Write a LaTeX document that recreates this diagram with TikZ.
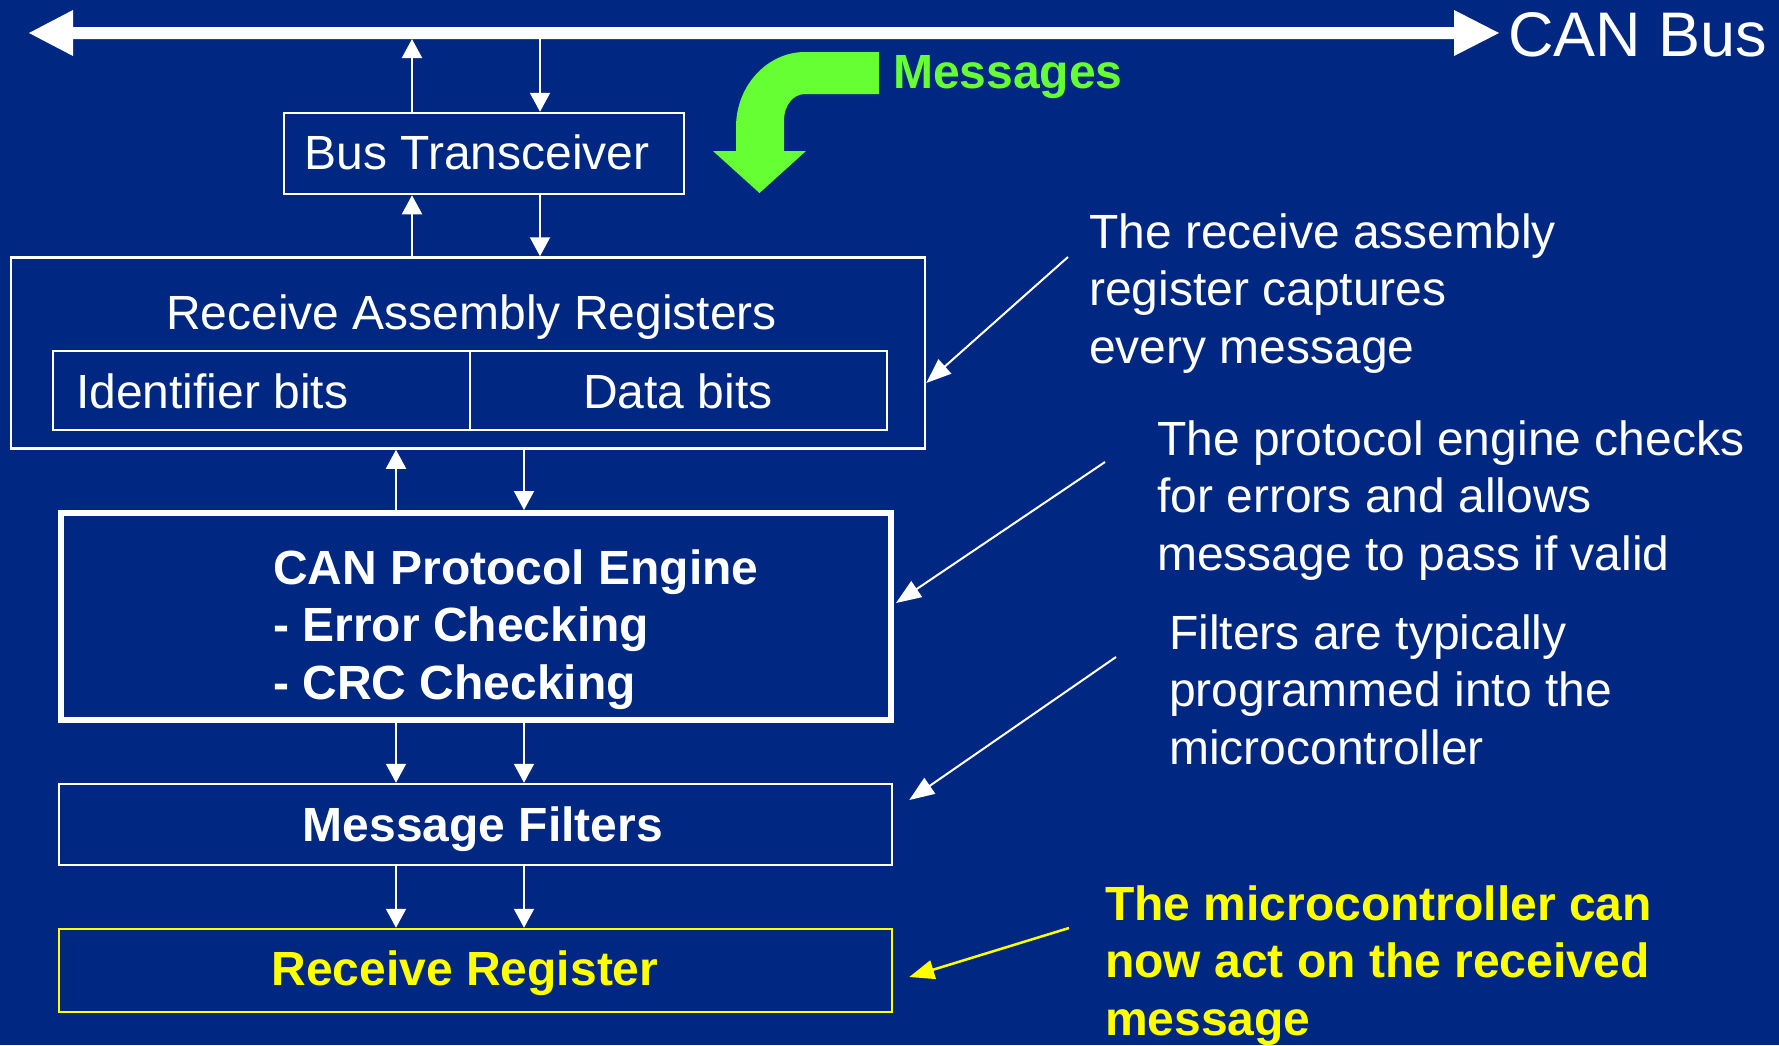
\documentclass[tikz,border=0pt]{standalone}
\usepackage{fontspec}
\setmainfont{Liberation Sans}
\usetikzlibrary{arrows.meta}
\definecolor{slidebg}{RGB}{0,40,130}
\definecolor{msggreen}{RGB}{102,255,51}
\definecolor{hiyellow}{RGB}{255,255,0}

\begin{document}
\begin{tikzpicture}[x=1pt,y=-1pt,
  txt/.style={inner sep=0pt, text=white, font=\fontsize{48}{57.5}\selectfont},
  boldtxt/.style={inner sep=0pt, text=white, font=\fontsize{48}{57.5}\selectfont\bfseries},
  blk/.style={draw=white, line width=2.5pt, inner sep=0pt},
  link/.style={draw=white, line width=2pt, -{Triangle[length=19pt,width=20pt]}},
  note/.style={draw=white, line width=2pt, -{Triangle[length=25pt,width=19pt]}},
]
% background and page size
\fill[slidebg] (0,0) rectangle (1779,1045);
\useasboundingbox (0,0) rectangle (1779,1045);

% CAN bus: thick double-headed arrow
\fill[white] (29,33) -- (73,10) -- (73,27) -- (1454,27) -- (1454,10) -- (1499,33)
  -- (1454,56) -- (1454,39) -- (73,39) -- (73,56) -- cycle;
\coordinate (busedge) at (0,39);
\node[anchor=base west, inner sep=0pt, text=white, font=\fontsize{63}{70}\selectfont]
  (canbus) at (1508,56) {CAN Bus};

% incoming messages arrow
\fill[msggreen] (879,52) -- (805,52) .. controls (767,52) and (736,86) .. (736,127)
  -- (736,151) -- (713,151) -- (759.5,193) -- (806,151) -- (784,151) -- (784,120)
  .. controls (784,106) and (793,94) .. (805,94) -- (879,94) -- cycle;
\node[boldtxt, text=msggreen, anchor=base west] (msgtext) at (893,88) {Messages};

% blocks
\node[blk, minimum width=400pt, minimum height=81pt] (bt) at (484,153.5) {};
\node[txt, anchor=base] (bttext) at (477,169) {Bus Transceiver};

\node[blk, minimum width=914pt, minimum height=191pt] (rar) at (468,353) {};
\node[txt, anchor=base] (rartitle) at (471.5,329) {Receive Assembly Registers};
\node[blk, minimum width=417pt, minimum height=79pt] (idbits) at (261.5,390.5) {};
\node[blk, minimum width=417pt, minimum height=79pt] (databits) at (678.5,390.5) {};
\node[txt, anchor=base west] (idtext) at (76,408) {Identifier bits};
\node[txt, anchor=base] (datatext) at (678,408) {Data bits};

\node[blk, line width=6pt, minimum width=830pt, minimum height=207pt] (cpe) at (476,616.5) {};
\node[boldtxt, anchor=base west] (cpetext) at (273,584)
  {\begin{tabular}[t]{@{}l@{}}CAN Protocol Engine\\- Error Checking\\- CRC Checking\end{tabular}};

\node[blk, minimum width=833pt, minimum height=81pt] (mf) at (475.5,824.5) {};
\node[boldtxt, anchor=base] (mftext) at (483,841) {Message Filters};

\node[blk, draw=hiyellow, minimum width=833pt, minimum height=83pt] (rr) at (475.5,970.5) {};
\node[boldtxt, text=hiyellow, anchor=base] (rrtext) at (465,985) {Receive Register};

% connector columns
\coordinate (colA) at (412,0);
\coordinate (colB) at (540,0);
\coordinate (colC) at (396,0);
\coordinate (colD) at (524,0);

\draw[link] (bt.north -| colA) -- (busedge -| colA);
\draw[link] (busedge -| colB) -- (bt.north -| colB);
\draw[link] (rar.north -| colA) -- (bt.south -| colA);
\draw[link] (bt.south -| colB) -- (rar.north -| colB);
\draw[link] (cpe.north -| colC) -- (rar.south -| colC);
\draw[link] (rar.south -| colD) -- (cpe.north -| colD);
\draw[link] (cpe.south -| colC) -- (mf.north -| colC);
\draw[link] (cpe.south -| colD) -- (mf.north -| colD);
\draw[link] (mf.south -| colC) -- (rr.north -| colC);
\draw[link] (mf.south -| colD) -- (rr.north -| colD);

% annotations
\node[txt, anchor=base west] (note1) at (1089,248)
  {\begin{tabular}[t]{@{}l@{}}The receive assembly\\register captures\\every message\end{tabular}};
\node[txt, anchor=base west] (note2) at (1157,455)
  {\begin{tabular}[t]{@{}l@{}}The protocol engine checks\\for errors and allows\\message to pass if valid\end{tabular}};
\node[txt, anchor=base west] (note3) at (1169,649)
  {\begin{tabular}[t]{@{}l@{}}Filters are typically\\programmed into the\\microcontroller\end{tabular}};
\node[boldtxt, text=hiyellow, anchor=base west] (note4) at (1105,920)
  {\begin{tabular}[t]{@{}l@{}}The microcontroller can\\now act on the received\\message\end{tabular}};

\coordinate (n1) at (1068,257);
\coordinate (n2) at (1105,462);
\coordinate (n3) at (1116,657);
\coordinate (n4) at (1069,928);
\draw[note] (n1) -- ([yshift=-30pt]rar.east);
\draw[note] (n2) -- ([xshift=2pt,yshift=13.5pt]cpe.east);
\draw[note] (n3) -- ([xshift=16pt,yshift=24.5pt]mf.east);
\draw[note, draw=hiyellow, line width=2.5pt] (n4) -- ([xshift=16pt,yshift=-6.5pt]rr.east);
\end{tikzpicture}
\end{document}
